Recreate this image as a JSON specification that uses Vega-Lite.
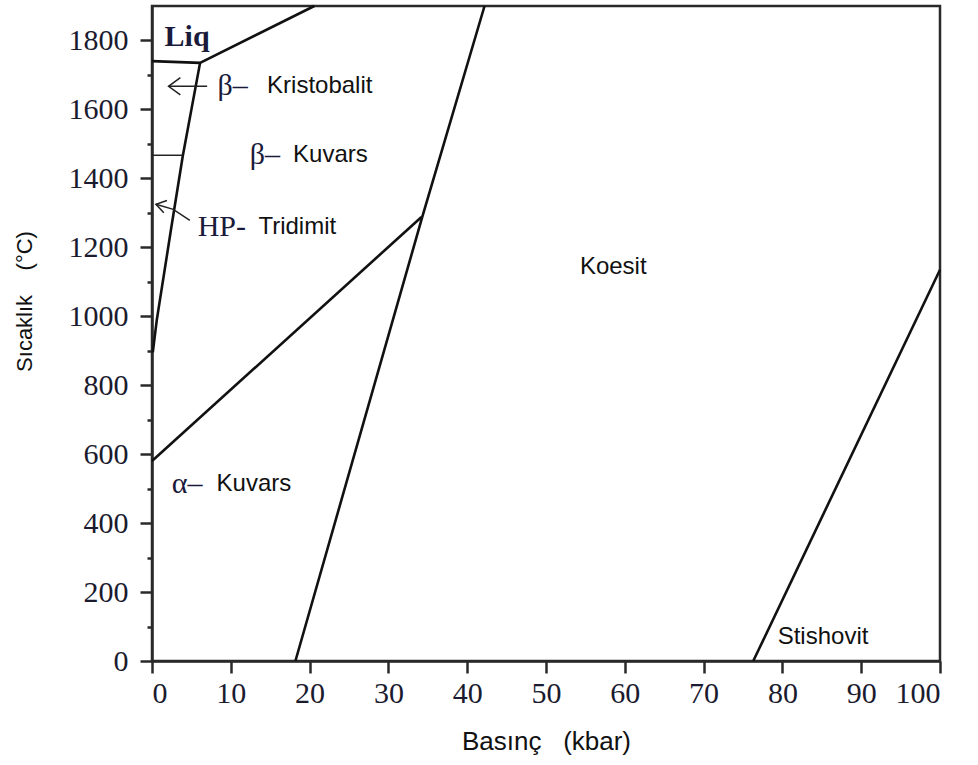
{
  "$schema": "https://vega.github.io/schema/vega-lite/v6.json",
  "width": 788,
  "height": 655,
  "autosize": {"type": "none"},
  "padding": {"left": 152, "top": 6, "right": 38, "bottom": 104},
  "background": "white",
  "config": {
    "view": {"stroke": "#2a2a2a", "strokeWidth": 2.5},
    "axis": {
      "grid": false,
      "domainColor": "#2a2a2a",
      "domainWidth": 2.5,
      "tickColor": "#2a2a2a",
      "tickWidth": 2.5,
      "labelFont": "Liberation Serif",
      "labelFontSize": 30,
      "labelColor": "#1b1b2f",
      "titleFont": "Liberation Sans",
      "titleFontWeight": "normal",
      "titleColor": "#111111"
    }
  },
  "datasets": {
    "lines": [
      {"seg": "liq_h", "kind": "b", "i": 0, "P": 0, "T": 1740},
      {"seg": "liq_h", "kind": "b", "i": 1, "P": 6.1, "T": 1735},
      {"seg": "liq_s", "kind": "b", "i": 0, "P": 6.1, "T": 1735},
      {"seg": "liq_s", "kind": "b", "i": 1, "P": 20.6, "T": 1900},
      {"seg": "cr_q", "kind": "b", "i": 0, "P": 6.1, "T": 1735},
      {"seg": "cr_q", "kind": "b", "i": 1, "P": 3.9, "T": 1464},
      {"seg": "cr_q", "kind": "b", "i": 2, "P": 2.4, "T": 1250},
      {"seg": "cr_q", "kind": "b", "i": 3, "P": 0.6, "T": 988},
      {"seg": "cr_q", "kind": "b", "i": 4, "P": 0.1, "T": 895},
      {"seg": "aq", "kind": "b", "i": 0, "P": 0, "T": 580},
      {"seg": "aq", "kind": "b", "i": 1, "P": 34.2, "T": 1288},
      {"seg": "qc", "kind": "b", "i": 0, "P": 18.2, "T": 0},
      {"seg": "qc", "kind": "b", "i": 1, "P": 34.3, "T": 1288},
      {"seg": "qc", "kind": "b", "i": 2, "P": 42.2, "T": 1900},
      {"seg": "cs", "kind": "b", "i": 0, "P": 76.3, "T": 0},
      {"seg": "cs", "kind": "b", "i": 1, "P": 100, "T": 1135},
      {"seg": "kr_h", "kind": "t", "i": 0, "P": 0, "T": 1467},
      {"seg": "kr_h", "kind": "t", "i": 1, "P": 3.9, "T": 1467},
      {"seg": "ar1", "kind": "t", "i": 0, "P": 7.0, "T": 1667},
      {"seg": "ar1", "kind": "t", "i": 1, "P": 2.1, "T": 1667},
      {"seg": "ar1h", "kind": "t", "i": 0, "P": 3.6, "T": 1692},
      {"seg": "ar1h", "kind": "t", "i": 1, "P": 2.1, "T": 1667},
      {"seg": "ar1h", "kind": "t", "i": 2, "P": 3.6, "T": 1642},
      {"seg": "ar2", "kind": "t", "i": 0, "P": 4.8, "T": 1278},
      {"seg": "ar2", "kind": "t", "i": 1, "P": 2.7, "T": 1310},
      {"seg": "ar2", "kind": "t", "i": 2, "P": 0.5, "T": 1325},
      {"seg": "ar2h", "kind": "t", "i": 0, "P": 1.9, "T": 1336},
      {"seg": "ar2h", "kind": "t", "i": 1, "P": 0.5, "T": 1325},
      {"seg": "ar2h", "kind": "t", "i": 2, "P": 1.5, "T": 1300}
    ],
    "serif": [
      {"txt": "β–", "P": 8.3, "T": 1667},
      {"txt": "β–", "P": 12.4, "T": 1467},
      {"txt": "HP-", "P": 5.8, "T": 1258},
      {"txt": "α–", "P": 2.5, "T": 513}
    ],
    "bold": [
      {"txt": "Liq", "P": 1.6, "T": 1810}
    ],
    "sans": [
      {"txt": "Kristobalit", "P": 14.6, "T": 1667},
      {"txt": "Kuvars", "P": 17.9, "T": 1467},
      {"txt": "Tridimit", "P": 13.5, "T": 1258},
      {"txt": "Koesit", "P": 54.3, "T": 1142},
      {"txt": "Kuvars", "P": 8.2, "T": 513},
      {"txt": "Stishovit", "P": 79.4, "T": 70}
    ]
  },
  "encoding": {
    "x": {
      "field": "P",
      "type": "quantitative",
      "scale": {"domain": [0, 100], "nice": false},
      "axis": {
        "values": [0, 10, 20, 30, 40, 50, 60, 70, 80, 90, 100],
        "tickSize": 12,
        "labelPadding": 5,
        "title": "Basınç\u00a0\u00a0\u00a0(kbar)",
        "titleFontSize": 26,
        "titlePadding": 20
      }
    },
    "y": {
      "field": "T",
      "type": "quantitative",
      "scale": {"domain": [0, 1900], "nice": false},
      "axis": {
        "values": [0, 100, 200, 300, 400, 500, 600, 700, 800, 900, 1000, 1100, 1200, 1300, 1400, 1500, 1600, 1700, 1800],
        "labelExpr": "datum.value % 200 === 0 ? datum.label : ''",
        "labelOverlap": false,
        "format": "d",
        "tickSize": {"condition": {"test": "datum.value % 200 === 0", "value": 12}, "value": 5},
        "labelPadding": 12,
        "title": "Sıcaklık\u00a0\u00a0\u00a0\u00a0(°C)",
        "titleFontSize": 22,
        "titlePadding": 32,
        "titleY": 295
      }
    }
  },
  "layer": [
    {
      "data": {"name": "lines"},
      "transform": [{"filter": "datum.kind === 'b'"}],
      "mark": {"type": "line", "color": "#111111", "strokeWidth": 2.6},
      "encoding": {"detail": {"field": "seg"}, "order": {"field": "i"}}
    },
    {
      "data": {"name": "lines"},
      "transform": [{"filter": "datum.kind === 't'"}],
      "mark": {"type": "line", "color": "#222222", "strokeWidth": 1.5},
      "encoding": {"detail": {"field": "seg"}, "order": {"field": "i"}}
    },
    {
      "data": {"name": "serif"},
      "mark": {"type": "text", "font": "Liberation Serif", "fontSize": 30, "align": "left", "baseline": "middle", "color": "#1a1a3a"},
      "encoding": {"text": {"field": "txt"}}
    },
    {
      "data": {"name": "bold"},
      "mark": {"type": "text", "font": "Liberation Serif", "fontSize": 30, "fontWeight": "bold", "align": "left", "baseline": "middle", "color": "#1a1a3a"},
      "encoding": {"text": {"field": "txt"}}
    },
    {
      "data": {"name": "sans"},
      "mark": {"type": "text", "font": "Liberation Sans", "fontSize": 24, "align": "left", "baseline": "middle", "color": "#111111"},
      "encoding": {"text": {"field": "txt"}}
    }
  ]
}
